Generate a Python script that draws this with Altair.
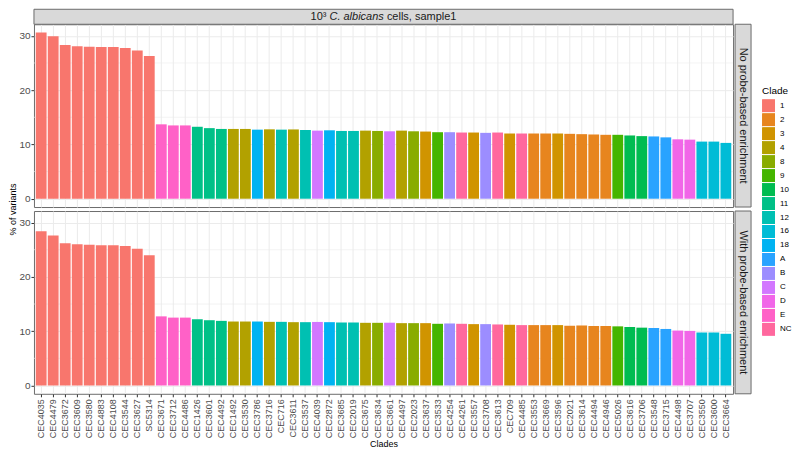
import math
import altair as alt
import pandas as pd

FONT = "Liberation Sans"

strains = ["CEC4035", "CEC4479", "CEC3672", "CEC3609", "CEC3580", "CEC4883", "CEC4108", "CEC3544",
           "CEC3627", "SC5314", "CEC3671", "CEC3712", "CEC4486", "CEC1426", "CEC3601", "CEC4492",
           "CEC1492", "CEC3530", "CEC3786", "CEC3716", "CEC716", "CEC3611", "CEC3537", "CEC4039",
           "CEC2872", "CEC3685", "CEC2019", "CEC3675", "CEC3634", "CEC3661", "CEC4497", "CEC2023",
           "CEC3637", "CEC3533", "CEC4254", "CEC4261", "CEC3557", "CEC3708", "CEC3613", "CEC709",
           "CEC4485", "CEC3553", "CEC3669", "CEC3596", "CEC2021", "CEC3614", "CEC4494", "CEC4946",
           "CEC5026", "CEC3616", "CEC3706", "CEC3548", "CEC3715", "CEC4498", "CEC3707", "CEC3550",
           "CEC3600", "CEC3664"]

clades = ["1", "1", "1", "1", "1", "1", "1", "1", "1", "1",
          "E", "E", "E", "11", "11", "11", "4", "4", "18", "4",
          "12", "4", "12", "C", "18", "12", "12", "4", "8", "C",
          "4", "8", "3", "9", "B", "NC", "3", "B", "NC", "3",
          "NC", "2", "2", "3", "2", "2", "2", "2", "9", "10",
          "10", "A", "A", "D", "D", "16", "16", "16"]

no_probe = [30.6, 29.9, 28.3, 28.1, 28.0, 27.95, 27.95, 27.75, 27.3, 26.3,
            13.7, 13.5, 13.5, 13.25, 13.0, 12.85, 12.85, 12.85, 12.72, 12.78,
            12.72, 12.76, 12.66, 12.54, 12.6, 12.48, 12.48, 12.54, 12.48, 12.42,
            12.54, 12.42, 12.37, 12.25, 12.25, 12.19, 12.19, 12.13, 12.19, 12.01,
            12.01, 12.01, 12.01, 12.01, 11.95, 11.89, 11.83, 11.77, 11.77, 11.65,
            11.53, 11.47, 11.30, 10.94, 10.88, 10.52, 10.52, 10.28]

with_probe = [28.4, 27.6, 26.18, 26.0, 25.9, 25.83, 25.83, 25.7, 25.2, 23.98,
              12.73, 12.5, 12.5, 12.2, 12.02, 11.9, 11.78, 11.78, 11.78, 11.72,
              11.72, 11.66, 11.66, 11.7, 11.66, 11.6, 11.6, 11.54, 11.54, 11.56,
              11.48, 11.48, 11.48, 11.36, 11.42, 11.36, 11.3, 11.3, 11.24, 11.18,
              11.12, 11.12, 11.12, 11.12, 11.0, 11.05, 10.95, 10.95, 10.89, 10.77,
              10.65, 10.59, 10.41, 10.11, 10.05, 9.76, 9.76, 9.52]

clade_levels = ["1", "2", "3", "4", "8", "9", "10", "11", "12", "16", "18",
                "A", "B", "C", "D", "E", "NC"]

panel_labels = ["No probe-based enrichment", "With probe-based enrichment"]
title_parts = ["10³", "C. albicans", "cells, sample1"]
major_ticks = [0, 10, 20, 30]
minor_ticks = [5, 15, 25]


def hue_pal(n, c=100.0, l=65.0):
    """ggplot2 default discrete hue palette (HCL -> sRGB)."""
    Xn, Yn, Zn = 95.047, 100.0, 108.883
    un = 4 * Xn / (Xn + 15 * Yn + 3 * Zn)
    vn = 9 * Yn / (Xn + 15 * Yn + 3 * Zn)
    out = []
    for i in range(n):
        h = math.radians(15 + 360.0 * i / n)
        u, v = c * math.cos(h), c * math.sin(h)
        Y = Yn * ((l + 16) / 116) ** 3
        up = u / (13 * l) + un
        vp = v / (13 * l) + vn
        X = Y * 9 * up / (4 * vp)
        Z = Y * (12 - 3 * up - 20 * vp) / (4 * vp)
        X, Y, Z = X / 100, Y / 100, Z / 100
        rgb = [3.2404542 * X - 1.5371385 * Y - 0.4985314 * Z,
               -0.9692660 * X + 1.8760108 * Y + 0.0415560 * Z,
               0.0556434 * X - 0.2040259 * Y + 1.0572252 * Z]
        res = []
        for ch in rgb:
            ch = 1.055 * ch ** (1 / 2.4) - 0.055 if ch > 0.0031308 else 12.92 * ch
            res.append(int(round(min(max(ch, 0), 1) * 255)))
        out.append("#%02X%02X%02X" % tuple(res))
    return out


colors = hue_pal(len(clade_levels))

W, H, SW, TH = 700, 183, 16, 15
GAP = 2
BORDER = "#6B6B6B"
GRID = "#EBEBEB"
STRIP = "#D9D9D9"

yscale = alt.Scale(domain=[-1.53, 32.13], nice=False, zero=False)
xscale = alt.Scale(domain=strains, paddingInner=0.1, paddingOuter=0.15)
color_enc = alt.Color(
    "Clade:N",
    scale=alt.Scale(domain=clade_levels, range=colors),
    legend=alt.Legend(title="Clade", orient="none", legendX=W + GAP + SW + 11, legendY=62,
                      symbolType="square", symbolSize=169, symbolStrokeWidth=0,
                      labelFontSize=8, labelFont=FONT, labelColor="black",
                      titleFontSize=10, titleFont=FONT, titleFontWeight="normal",
                      titleColor="black", rowPadding=1, labelOffset=5, titlePadding=3),
)


def panel(vals, label, bottom):
    d = pd.DataFrame({"Strain": strains, "Clade": clades, "pct": vals})
    xaxis = alt.Axis(title="Clades" if bottom else None, labels=bottom, ticks=bottom,
                     domain=False, grid=True, gridColor=GRID, gridWidth=1,
                     bandPosition=0.5, labelAngle=-90, labelFontSize=9, labelFont=FONT,
                     labelColor="#4D4D4D", labelOverlap=False, labelPadding=2,
                     tickColor="#333333", tickSize=3, titleFontSize=9, titleFont=FONT,
                     titleColor="black", titleFontWeight="normal", titlePadding=2)
    yopts = dict(values=major_ticks, domain=False, grid=True, gridColor=GRID, gridWidth=1,
                 labelFontSize=10, labelFont=FONT, labelColor="#4D4D4D", labelPadding=1,
                 tickColor="#333333", tickSize=3)
    if bottom:
        yaxis = alt.Axis(title=None, **yopts)
    else:
        yaxis = alt.Axis(title="% of variants", titleY=H + 2, titleFontSize=9, titleFont=FONT,
                         titleColor="black", titleFontWeight="normal", titlePadding=1, **yopts)
    minor = alt.Chart(pd.DataFrame({"v": minor_ticks})).mark_rule(
        color=GRID, strokeWidth=0.6).encode(y=alt.Y("v:Q", scale=yscale, axis=yaxis))
    bars = alt.Chart(d).mark_bar().encode(
        x=alt.X("Strain:N", scale=xscale, sort=strains, axis=xaxis),
        y=alt.Y("pct:Q", scale=yscale, axis=yaxis),
        color=color_enc,
        tooltip=["Strain", "Clade", "pct"],
    )
    sdf = pd.DataFrame({"t": [label]})
    sbox = alt.Chart(sdf).mark_rect(fill=STRIP, stroke=BORDER, strokeWidth=1).encode(
        x=alt.value(W + GAP), x2=alt.value(W + GAP + SW), y=alt.value(0), y2=alt.value(H))
    stext = alt.Chart(sdf).mark_text(
        angle=90, fontSize=11, font=FONT, color="#1A1A1A", align="center", baseline="middle"
    ).encode(text="t:N", x=alt.value(W + GAP + SW / 2), y=alt.value(H / 2))
    layers = [minor, bars, sbox, stext]
    if not bottom:
        fs = 11
        w1 = 1.445 * fs
        sp = 0.278 * fs
        w2 = 4.946 * fs
        w3 = 6.335 * fs
        x0 = W / 2 - (w1 + sp + w2 + sp + w3) / 2
        tdf = pd.DataFrame({"a": [title_parts[0]], "b": [title_parts[1]], "c": [title_parts[2]]})
        tb = alt.Chart(tdf)
        ty = -TH / 2 + 0.5
        tbox = tb.mark_rect(fill=STRIP, stroke=BORDER, strokeWidth=1).encode(
            x=alt.value(0), x2=alt.value(W), y=alt.value(-TH), y2=alt.value(0))
        t1 = tb.mark_text(fontSize=fs, font=FONT, color="#1A1A1A", align="left",
                          baseline="middle").encode(text="a:N", x=alt.value(x0), y=alt.value(ty))
        t2 = tb.mark_text(fontSize=fs, font=FONT, fontStyle="italic", color="#1A1A1A", align="left",
                          baseline="middle").encode(text="b:N", x=alt.value(x0 + w1 + sp), y=alt.value(ty))
        t3 = tb.mark_text(fontSize=fs, font=FONT, color="#1A1A1A", align="left",
                          baseline="middle").encode(text="c:N", x=alt.value(x0 + w1 + sp + w2 + sp),
                                                    y=alt.value(ty))
        layers += [tbox, t1, t2, t3]
    return alt.layer(*layers).properties(
        width=W, height=H,
        view=alt.ViewBackground(stroke=BORDER, strokeWidth=1, fill="white"))


chart = alt.vconcat(
    panel(no_probe, panel_labels[0], False),
    panel(with_probe, panel_labels[1], True),
    spacing=4, bounds="flush",
).properties(padding=0).configure(font=FONT).configure_view(stroke=None)

chart.save("out.html", embed_options={"renderer": "svg", "actions": False})
